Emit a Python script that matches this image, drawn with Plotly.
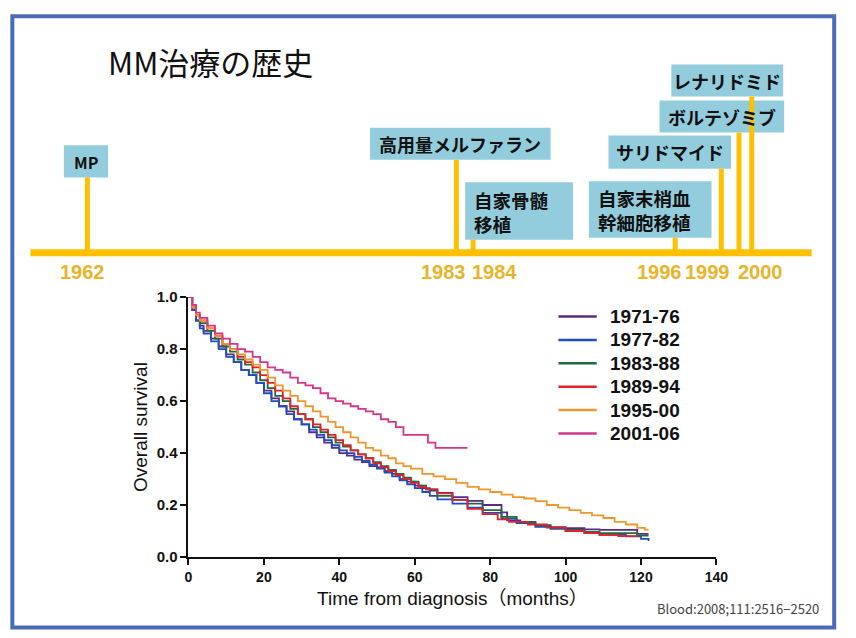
import plotly.graph_objects as go

W, H = 856, 638

# ---------------- data ----------------
series_names = ["1971-76", "1977-82", "1983-88", "1989-94", "1995-00", "2001-06"]

t_7176 = [0, 1, 2, 3, 4, 6, 8, 10, 12, 14, 16, 18, 20, 22, 24, 26, 28, 30, 32, 34, 36, 38, 40, 42, 44, 46, 48, 50, 52, 54, 56, 58, 60, 62, 64, 66, 70, 74, 78, 83, 84.5, 88, 92, 96, 100, 105, 109, 118.5, 119, 122]
s_7176 = [1.0, 0.95, 0.91, 0.89, 0.87, 0.84, 0.81, 0.78, 0.75, 0.72, 0.70, 0.67, 0.64, 0.61, 0.58, 0.56, 0.53, 0.51, 0.48, 0.46, 0.44, 0.42, 0.40, 0.39, 0.375, 0.365, 0.35, 0.345, 0.33, 0.32, 0.30, 0.29, 0.275, 0.265, 0.255, 0.247, 0.23, 0.216, 0.20, 0.172, 0.141, 0.13, 0.122, 0.115, 0.111, 0.106, 0.104, 0.104, 0.089, 0.089]

t_7782 = [0, 1, 2, 3, 4, 6, 8, 10, 12, 14, 16, 18, 20, 22, 24, 26, 28, 30, 32, 34, 36, 38, 40, 42, 44, 46, 48, 50, 52, 54, 56, 58, 60, 62, 64, 66, 70, 74, 78, 83, 87, 92, 96, 100, 105, 109, 116, 120, 122]
s_7782 = [1.0, 0.95, 0.91, 0.88, 0.86, 0.83, 0.80, 0.77, 0.75, 0.72, 0.70, 0.67, 0.63, 0.60, 0.58, 0.55, 0.53, 0.51, 0.49, 0.47, 0.45, 0.43, 0.41, 0.40, 0.385, 0.37, 0.355, 0.34, 0.325, 0.31, 0.295, 0.28, 0.265, 0.25, 0.235, 0.222, 0.205, 0.19, 0.17, 0.148, 0.13, 0.116, 0.108, 0.10, 0.092, 0.085, 0.079, 0.07, 0.062]

t_8388 = [0, 1, 2, 3, 5, 7, 9, 11, 13, 15, 17, 19, 21, 23, 25, 27, 29, 31, 33, 35, 37, 39, 41, 43, 45, 47, 49, 51, 53, 55, 57, 59, 61, 63, 66, 70, 74, 78, 83, 87, 92, 96, 100, 105, 109, 118, 119, 122]
s_8388 = [1.0, 0.96, 0.93, 0.90, 0.87, 0.84, 0.81, 0.79, 0.76, 0.74, 0.71, 0.68, 0.65, 0.62, 0.60, 0.57, 0.55, 0.53, 0.50, 0.48, 0.46, 0.44, 0.425, 0.41, 0.395, 0.38, 0.365, 0.35, 0.335, 0.32, 0.305, 0.29, 0.275, 0.26, 0.235, 0.22, 0.205, 0.18, 0.154, 0.135, 0.122, 0.112, 0.104, 0.097, 0.092, 0.092, 0.082, 0.082]

t_8994 = [0, 1, 2, 3, 5, 7, 9, 11, 13, 15, 17, 19, 21, 23, 25, 27, 29, 31, 33, 35, 37, 39, 41, 43, 45, 47, 49, 51, 53, 55, 57, 59, 61, 63, 66, 70, 74, 78, 82, 85, 90, 95, 100, 105, 109, 114, 119]
s_8994 = [1.0, 0.96, 0.93, 0.91, 0.88, 0.85, 0.82, 0.80, 0.77, 0.75, 0.73, 0.70, 0.67, 0.64, 0.61, 0.58, 0.55, 0.53, 0.51, 0.49, 0.47, 0.45, 0.43, 0.41, 0.395, 0.38, 0.36, 0.345, 0.33, 0.315, 0.30, 0.285, 0.27, 0.26, 0.245, 0.22, 0.185, 0.165, 0.145, 0.135, 0.125, 0.113, 0.10, 0.092, 0.085, 0.08, 0.077]

t_9500 = [0, 1, 2, 3, 5, 7, 9, 11, 13, 15, 17, 19, 21, 23, 25, 27, 29, 31, 33, 35, 37, 39, 41, 43, 45, 47, 49, 51, 53, 55, 57, 59, 62, 65, 68, 71, 74, 77, 80, 83, 86, 89, 92, 95, 98, 101, 104, 107, 110, 113, 116, 119, 121, 122]
s_9500 = [1.0, 0.96, 0.93, 0.91, 0.88, 0.85, 0.82, 0.80, 0.78, 0.76, 0.74, 0.72, 0.69, 0.66, 0.64, 0.62, 0.60, 0.58, 0.56, 0.54, 0.52, 0.50, 0.48, 0.46, 0.44, 0.42, 0.41, 0.39, 0.38, 0.36, 0.35, 0.34, 0.32, 0.31, 0.30, 0.285, 0.27, 0.26, 0.25, 0.24, 0.23, 0.225, 0.215, 0.20, 0.19, 0.18, 0.17, 0.16, 0.15, 0.135, 0.125, 0.112, 0.105, 0.105]

t_0106 = [0, 1, 2, 3, 5, 7, 9, 11, 13, 15, 17, 19, 21, 23, 25, 27, 29, 31, 33, 35, 37, 39, 41, 43, 45, 47, 49, 51, 53, 55, 57, 63.5, 65.5, 74]
s_0106 = [1.0, 0.97, 0.94, 0.92, 0.89, 0.86, 0.84, 0.82, 0.80, 0.79, 0.77, 0.75, 0.73, 0.72, 0.71, 0.69, 0.67, 0.66, 0.65, 0.63, 0.61, 0.60, 0.59, 0.58, 0.57, 0.56, 0.55, 0.53, 0.52, 0.50, 0.47, 0.44, 0.42, 0.42]

x_ticks = [0, 20, 40, 60, 80, 100, 120, 140]
y_ticks = [0.0, 0.2, 0.4, 0.6, 0.8, 1.0]
y_tick_labels = ["0.0", "0.2", "0.4", "0.6", "0.8", "1.0"]

title_text = "MM治療の歴史"
# each event label as a list of text lines
event_lines = [["MP"], ["高用量メルファラン"], ["自家骨髄", "移植"], ["自家末梢血", "幹細胞移植"],
               ["サリドマイド"], ["ボルテゾミブ"], ["レナリドミド"]]
year_labels = ["1962", "1983", "1984", "1996", "1999", "2000"]
citation = "Blood:2008;111:2516−2520"

# ---------------- layout (pixel positions) ----------------
def X(p):
    return p / W

def Y(p):
    return 1 - p / H

colors = ["#5B2A86", "#1F4CC0", "#1F6B3C", "#E3202B", "#F0962E", "#D8338A"]
times = [t_7176, t_7782, t_8388, t_8994, t_9500, t_0106]
surv = [s_7176, s_7782, s_8388, s_8994, s_9500, s_0106]

fig = go.Figure()
for name, t, s, c in zip(series_names, times, surv, colors):
    fig.add_trace(go.Scatter(x=t, y=s, mode="lines", name=name, showlegend=False,
                             line=dict(color=c, width=1.8, shape="hv")))

AX_FONT = "Arial, Liberation Sans, sans-serif"
JP_FONT = "Noto Sans CJK JP, sans-serif"

fig.update_layout(
    width=W, height=H,
    margin=dict(l=0, r=0, t=0, b=0),
    paper_bgcolor="white", plot_bgcolor="white",
    showlegend=False,
    xaxis=dict(domain=[X(188), X(726)], range=[0, 140], tickvals=x_ticks,
               showgrid=False, zeroline=False, showline=True, linecolor="#111",
               linewidth=2, ticks="outside", ticklen=6, tickwidth=2, tickcolor="#111",
               tickfont=dict(family=AX_FONT, size=14, color="#111", weight="bold"),
               title=dict(text="Time from diagnosis（months）", standoff=8,
                          font=dict(family=AX_FONT + ", Noto Sans CJK JP", size=19, color="#111"))),
    yaxis=dict(domain=[Y(563), Y(296)], range=[0, 1.0], tickvals=y_ticks, ticktext=y_tick_labels,
               showgrid=False, zeroline=False, showline=True, linecolor="#111",
               linewidth=2, ticks="outside", ticklen=6, tickwidth=2, tickcolor="#111",
               tickfont=dict(family=AX_FONT, size=15, color="#111", weight="bold"),
               title=dict(text="Overall survival", standoff=4,
                          font=dict(family=AX_FONT, size=19, color="#111"))),
)

shapes = []
annotations = []

# slide border
shapes.append(dict(type="rect", xref="paper", yref="paper",
                   x0=X(8.5), x1=X(846), y0=Y(635.5), y1=Y(7.5),
                   line=dict(color="#4A6BB7", width=4), fillcolor="rgba(0,0,0,0)", layer="above"))

# title
annotations.append(dict(text=title_text, xref="paper", yref="paper", x=X(104), y=Y(54),
                        xanchor="left", yanchor="middle", showarrow=False,
                        font=dict(family=JP_FONT, size=31, color="#111")))

BOX = "#93CDDD"
GOLD = "#FFC000"
boxes = [(61, 106, 140, 173), (373, 557, 122, 155), (470, 580, 178, 237),
         (596, 721, 177, 235), (616, 741, 130, 164), (668, 795, 94, 127), (680, 794, 57, 90)]
# (x, [line centre ys], anchor)
text_pos = [(83.5, [157], "center"), (465, [138.5], "center"), (478, [196, 221], "left"),
            (604, [194, 219], "left"), (678.5, [147], "center"), (731.5, [111], "center"),
            (737, [73.5], "center")]
text_size = [16, 18, 18.5, 18.5, 18, 18, 18]
stems = [(85, 173), (461, 155), (478, 237), (684, 235), (731, 164), (749, 127), (762, 90)]

for (x0, x1, y0, y1) in boxes:
    shapes.append(dict(type="rect", xref="paper", yref="paper", x0=X(x0), x1=X(x1),
                       y0=Y(y1), y1=Y(y0), fillcolor=BOX, line=dict(width=0), layer="below"))
for (sx, sy) in stems:
    shapes.append(dict(type="line", xref="paper", yref="paper", x0=X(sx), x1=X(sx),
                       y0=Y(250), y1=Y(sy), line=dict(color=GOLD, width=5)))
shapes.append(dict(type="line", xref="paper", yref="paper", x0=X(27), x1=X(823),
                   y0=Y(250.5), y1=Y(250.5), line=dict(color=GOLD, width=7)))

for lines, (tx, tys, al), fs in zip(event_lines, text_pos, text_size):
    for line_text, ty in zip(lines, tys):
        annotations.append(dict(text="<b>" + line_text + "</b>", xref="paper", yref="paper",
                                x=X(tx), y=Y(ty), xanchor=al, yanchor="middle",
                                showarrow=False, borderpad=0,
                                font=dict(family=JP_FONT, size=fs, color="#111")))

year_x = [80, 448, 500, 668, 717, 771]
for lab, yx in zip(year_labels, year_x):
    annotations.append(dict(text="<b>" + lab + "</b>", xref="paper", yref="paper",
                            x=X(yx), y=Y(270), xanchor="center", yanchor="middle",
                            showarrow=False,
                            font=dict(family=AX_FONT, size=20, color="#E8B42A")))

# legend (drawn manually for exact spacing)
leg_y0 = 316
leg_dy = 24
for i, (name, c) in enumerate(zip(series_names, colors)):
    yy = leg_y0 + i * leg_dy
    shapes.append(dict(type="line", xref="paper", yref="paper", x0=X(565), x1=X(604),
                       y0=Y(yy), y1=Y(yy), line=dict(color=c, width=2.5)))
    annotations.append(dict(text="<b>" + name + "</b>", xref="paper", yref="paper",
                            x=X(617), y=Y(yy), xanchor="left", yanchor="middle",
                            showarrow=False, borderpad=0,
                            font=dict(family=AX_FONT, size=19, color="#111")))

annotations.append(dict(text=citation, xref="paper", yref="paper", x=X(833), y=Y(616),
                        xanchor="right", yanchor="middle", showarrow=False,
                        font=dict(family=JP_FONT, size=13, color="#444")))

fig.update_layout(shapes=shapes, annotations=annotations)
fig.write_html("out.html", config={"displayModeBar": False},
               post_script="document.body.style.margin='0';document.body.style.overflow='hidden';")
